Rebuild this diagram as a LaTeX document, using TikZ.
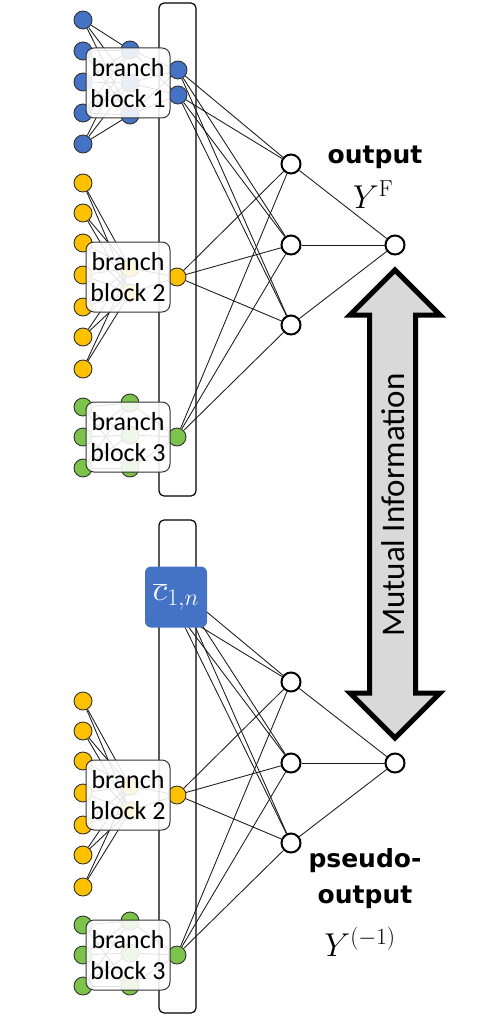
\RequirePackage{fix-cm}
\documentclass[tikz,border=0pt]{standalone}
\usepackage[no-math]{fontspec}
\setmainfont{Carlito}
\newfontfamily\boldlabel{DejaVu Sans}
\definecolor{nnblue}{HTML}{4472C4}
\definecolor{nnyellow}{HTML}{FFC000}
\definecolor{nngreen}{HTML}{7DC24B}
\definecolor{arrowgray}{HTML}{D9D9D9}

\begin{document}
\begin{tikzpicture}[x=1pt,y=-1pt,
  unit/.style={circle,draw=black!80,line width=0.9pt,minimum size=18pt,inner sep=0pt},
  hidden/.style={circle,draw=black,line width=2pt,fill=white,minimum size=19pt,inner sep=0pt},
  wire/.style={black!90,line width=0.85pt},
  blockbox/.style={draw=black!80,line width=1pt,fill=white,fill opacity=0.88,text opacity=1,
    rounded corners=8pt,minimum width=84pt,minimum height=70pt,inner sep=0pt,align=center,
    font=\fontsize{26}{31}\selectfont},
  cbox/.style={fill=nnblue,text=white,rounded corners=6pt,minimum width=62pt,minimum height=61pt,
    inner sep=0pt,font=\fontsize{34}{34}\selectfont},
  column/.style={draw=black,line width=1.2pt,rounded corners=5pt},
  lbl/.style={font=\boldlabel\bfseries\fontsize{25}{36}\selectfont,align=center},
  mathlbl/.style={font=\fontsize{33}{33}\selectfont}]

\useasboundingbox (0,0) rectangle (479,1016);

% columns
\draw[column] (159,3) rectangle (196,496);
\draw[column] (159,520) rectangle (196,1013);

% branch block 1
\foreach \y [count=\i] in {20,51,82,113,144}
  \node[unit,fill=nnblue] (ai\i) at (83,\y) {};
\foreach \y [count=\i] in {50,83,115}
  \node[unit,fill=nnblue] (ah\i) at (130,\y) {};
\foreach \y [count=\i] in {70,95}
  \node[unit,fill=nnblue] (ao\i) at (178,\y) {};
\foreach \i in {1,...,5}
  \foreach \j in {1,2,3}
    \draw[wire] (ai\i) -- (ah\j);
\foreach \j in {1,2,3}
  \foreach \k in {1,2}
    \draw[wire] (ah\j) -- (ao\k);
\node[blockbox] (ablk) at (128,83) {branch\\block 1};

% branch blocks 2 and 3, hidden layer and output (top t, bottom b)
\foreach \p/\dy in {t/0,b/518} {
  \foreach \y [count=\i] in {183,213,243,275,307,337,369}
    \node[unit,fill=nnyellow] (\p yi\i) at (83,\y+\dy) {};
  \foreach \y [count=\i] in {268,293}
    \node[unit,fill=nnyellow] (\p yh\i) at (130,\y+\dy) {};
  \node[unit,fill=nnyellow] (\p yo) at (177,277+\dy) {};
  \foreach \i in {1,...,7}
    \foreach \j in {1,2}
      \draw[wire] (\p yi\i) -- (\p yh\j);
  \foreach \j in {1,2}
    \draw[wire] (\p yh\j) -- (\p yo);
  \node[blockbox] (\p yblk) at (128,277+\dy) {branch\\block 2};

  \foreach \y [count=\i] in {407,437,468}
    \node[unit,fill=nngreen] (\p gi\i) at (83,\y+\dy) {};
  \foreach \y [count=\i] in {403,435,468}
    \node[unit,fill=nngreen] (\p gh\i) at (130,\y+\dy) {};
  \node[unit,fill=nngreen] (\p go) at (177,437+\dy) {};
  \foreach \i in {1,2,3}
    \foreach \j in {1,2,3}
      \draw[wire] (\p gi\i) -- (\p gh\j);
  \foreach \j in {1,2,3}
    \draw[wire] (\p gh\j) -- (\p go);
  \node[blockbox] (\p gblk) at (128,437+\dy) {branch\\block 3};

  \foreach \y [count=\i] in {164,245,325}
    \node[hidden] (\p h\i) at (291,\y+\dy) {};
  \node[hidden] (\p out) at (395,245+\dy) {};
  \foreach \j in {1,2,3} {
    \draw[wire] (\p yo) -- (\p h\j);
    \draw[wire] (\p go) -- (\p h\j);
    \draw[wire] (\p h\j) -- (\p out);
  }
}

% top: block 1 to hidden layer
\foreach \k in {1,2}
  \foreach \j in {1,2,3}
    \draw[wire] (ao\k) -- (th\j);

% bottom: averaged block behind the c box
\coordinate (co1) at (178,588);
\coordinate (co2) at (178,613);
\foreach \k in {1,2}
  \foreach \j in {1,2,3}
    \draw[wire] (co\k) -- (bh\j);
\node[cbox] (cbar) at (176,597) {$\overline{c}_{1,n}$};

% labels
\node[lbl] (toutlbl) at (375,157) {output};
\node[mathlbl] (tylbl) at (373,195) {$Y^{\mathrm{F}}$};
\node[lbl] (boutlbl) at (365,879) {pseudo-\\output};
\node[mathlbl] (bylbl) at (360,942) {$Y^{(-1)}$};

% mutual information arrow
\draw[line width=5pt,fill=arrowgray,miter limit=10]
  (395,270) -- (440,315) -- (415.5,315) -- (415.5,693) -- (440,693) -- (395,738)
  -- (350,693) -- (369.5,693) -- (369.5,315) -- (350,315) -- cycle;
\node[rotate=90,font=\fontsize{33}{33}\selectfont] (milbl) at (393,505) {Mutual Information};
\end{tikzpicture}
\end{document}
